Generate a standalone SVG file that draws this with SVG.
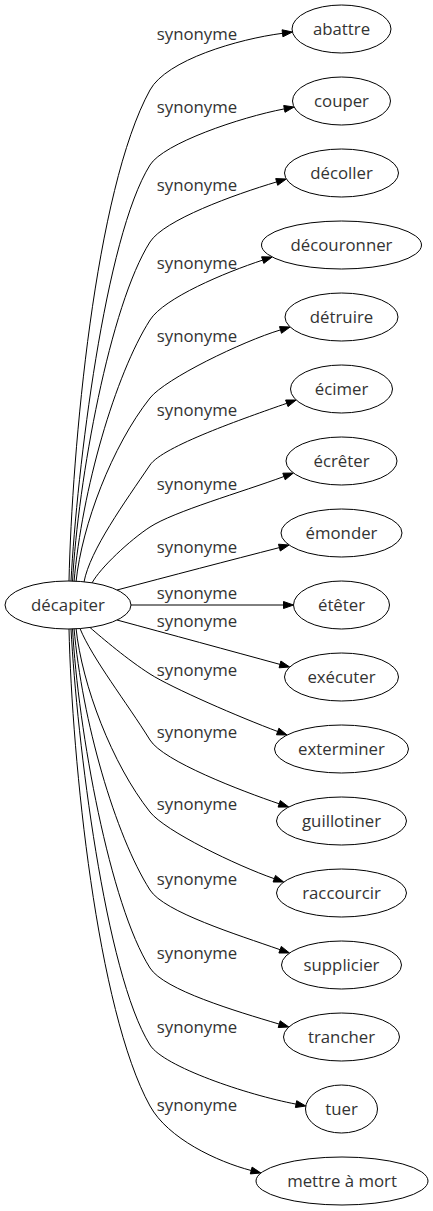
<svg xmlns="http://www.w3.org/2000/svg" width="433" height="1211" viewBox="0 0 433 1211">
<style>
.n ellipse{fill:#fff;stroke:#000;stroke-width:1}
.n text{font-family:"Open Sans","DejaVu Sans",sans-serif;font-size:16.8px;fill:#333;text-anchor:middle}
#edges path{fill:none;stroke:#000;stroke-width:1}
#edges polygon{fill:#000;stroke:#000;stroke-width:1}
#edges text{font-family:"Open Sans","DejaVu Sans",sans-serif;font-size:16.8px;fill:#333;text-anchor:middle}
</style>
<rect width="433" height="1211" fill="#fff"/>
<g id="edges">
<path d="M69,581 C72,450 95,190 150,90 C166.5,60 237.9,39.1 282.5,33.3"/>
<polygon points="292.4,32 282.9,36.8 282.1,29.8"/>
<text x="197" y="40">synonyme</text>
<path d="M71,581 C77,470 105,237 150,165 C163.5,143.4 240.1,117.3 284.3,108.9"/>
<polygon points="294.1,107 285,112.3 283.7,105.5"/>
<text x="197" y="113">synonyme</text>
<path d="M72.5,582 C78,480 110,305 150,242 C164,220 233.6,194.8 276.7,181.9"/>
<polygon points="286.3,179 277.7,185.3 275.7,178.6"/>
<text x="197" y="191">synonyme</text>
<path d="M74,582 C82,490 115,375 150,320 C164,298 224.7,272.6 262.7,260.1"/>
<polygon points="272.2,257 263.8,263.4 261.6,256.8"/>
<text x="197" y="269">synonyme</text>
<path d="M76,582 C82,525 112,446 150,398 C165.2,378.8 242.2,341.4 280.5,329.9"/>
<polygon points="290.1,327 281.5,333.3 279.5,326.6"/>
<text x="197" y="342">synonyme</text>
<path d="M84,582 C90,550 125,502 150,465 C162.5,446.5 244.3,418.2 286.8,403.3"/>
<polygon points="296.2,400 288,406.6 285.6,400"/>
<text x="197" y="416">synonyme</text>
<path d="M92,583 C100,568 130,540 150,527 C174,511.4 241.8,492.1 284,476.5"/>
<polygon points="293.4,473 285.2,479.8 282.8,473.2"/>
<text x="197" y="490">synonyme</text>
<path d="M117,590 C170,576 230,560.3 279.4,547.6"/>
<polygon points="289.1,545 280.3,551 278.5,544.2"/>
<text x="197" y="553">synonyme</text>
<path d="M131,605 L283.5,605"/>
<polygon points="293.5,605 283.5,608.5 283.5,601.5"/>
<text x="197" y="599">synonyme</text>
<path d="M117,620 C170,634.4 230,650.7 280,664.4"/>
<polygon points="289.7,667 279.1,667.8 280.9,661"/>
<text x="197" y="627">synonyme</text>
<path d="M90,627.5 C102,638 128,660 150,674 C172,688 240.2,717.5 277.7,731.5"/>
<polygon points="287.1,735 276.5,734.8 278.9,728.2"/>
<text x="197" y="676">synonyme</text>
<path d="M80,628.5 C92,658 127,703 150,740 C163.1,761.1 241.3,790.9 279.2,803.8"/>
<polygon points="288.7,807 278.1,807.1 280.3,800.5"/>
<text x="197" y="738">synonyme</text>
<path d="M76,628 C82,685 112,764 150,812 C165.2,831.2 236.5,865.5 274.3,878.7"/>
<polygon points="283.7,882 273.1,882 275.5,875.4"/>
<text x="197" y="810">synonyme</text>
<path d="M74,628 C82,720 115,835 150,890 C164,912 237.6,934.8 280.1,949.7"/>
<polygon points="289.5,953 278.9,953 281.3,946.4"/>
<text x="197" y="885">synonyme</text>
<path d="M72.5,628 C78,730 110,905 150,968 C164,990 236.1,1011.2 279.2,1024.1"/>
<polygon points="288.8,1027 278.2,1027.5 280.2,1020.8"/>
<text x="197" y="959">synonyme</text>
<path d="M71,629 C77,740 105,973 150,1045 C163.5,1066.6 246.9,1094.8 296,1104.1"/>
<polygon points="305.8,1106 295.4,1107.5 296.7,1100.7"/>
<text x="197" y="1033">synonyme</text>
<path d="M69,629 C72,760 97,1010 150,1106 C168,1138.6 217.3,1161.7 251.2,1170.5"/>
<polygon points="260.9,1173 250.3,1173.9 252.1,1167.1"/>
<text x="197" y="1111">synonyme</text>
</g>
<g id="n0" class="n"><ellipse cx="68" cy="605" rx="63" ry="24"/><text x="68" y="611">décapiter</text></g>
<g id="n1" class="n"><ellipse cx="341.5" cy="29" rx="49.5" ry="24"/><text x="341.5" y="35">abattre</text></g>
<g id="n2" class="n"><ellipse cx="341.5" cy="101" rx="49" ry="24"/><text x="341.5" y="107">couper</text></g>
<g id="n3" class="n"><ellipse cx="341.5" cy="173" rx="57" ry="24"/><text x="341.5" y="179">décoller</text></g>
<g id="n4" class="n"><ellipse cx="341.5" cy="245" rx="80" ry="24"/><text x="341.5" y="251">découronner</text></g>
<g id="n5" class="n"><ellipse cx="341.5" cy="317" rx="56.5" ry="24"/><text x="341.5" y="323">détruire</text></g>
<g id="n6" class="n"><ellipse cx="341.5" cy="389" rx="51" ry="24"/><text x="341.5" y="395">écimer</text></g>
<g id="n7" class="n"><ellipse cx="341.5" cy="461" rx="55.5" ry="24"/><text x="341.5" y="467">écrêter</text></g>
<g id="n8" class="n"><ellipse cx="341.5" cy="533" rx="60.5" ry="24"/><text x="341.5" y="539">émonder</text></g>
<g id="n9" class="n"><ellipse cx="341.5" cy="605" rx="48" ry="24"/><text x="341.5" y="611">étêter</text></g>
<g id="n10" class="n"><ellipse cx="341.5" cy="677" rx="57" ry="24"/><text x="341.5" y="683">exécuter</text></g>
<g id="n11" class="n"><ellipse cx="341.5" cy="749" rx="67" ry="24"/><text x="341.5" y="755">exterminer</text></g>
<g id="n12" class="n"><ellipse cx="341.5" cy="821" rx="65" ry="24"/><text x="341.5" y="827">guillotiner</text></g>
<g id="n13" class="n"><ellipse cx="341.5" cy="893" rx="65" ry="24"/><text x="341.5" y="899">raccourcir</text></g>
<g id="n14" class="n"><ellipse cx="341.5" cy="965" rx="60" ry="24"/><text x="341.5" y="971">supplicier</text></g>
<g id="n15" class="n"><ellipse cx="341.5" cy="1037" rx="58" ry="24"/><text x="341.5" y="1043">trancher</text></g>
<g id="n16" class="n"><ellipse cx="341.5" cy="1109" rx="36" ry="24"/><text x="341.5" y="1115">tuer</text></g>
<g id="n17" class="n"><ellipse cx="342" cy="1181" rx="86" ry="24"/><text x="342" y="1187">mettre à mort</text></g>
</svg>
